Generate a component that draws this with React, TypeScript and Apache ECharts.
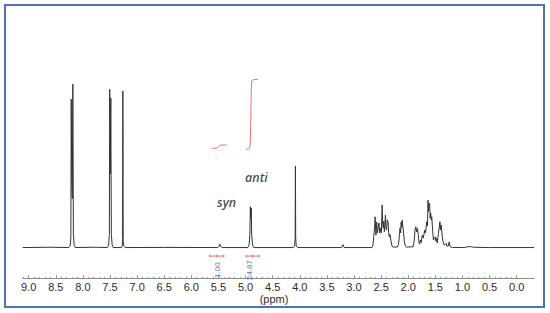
import React, { useEffect, useRef } from "react";
import * as echarts from "echarts";

// tick labels (ppm)
const tickLabels = [9.0, 8.5, 8.0, 7.5, 7.0, 6.5, 6.0, 5.5, 5.0, 4.5, 4.0, 3.5, 3.0, 2.5, 2.0, 1.5, 1.0, 0.5, 0.0];

// 1H NMR spectrum: [ppm, intensity]
const spectrum: [number, number][] = [
  [9.11, 0], [8.6, 0.2], [8.26, 0], [8.235, 1], [8.222, 6], [8.215, 90.8], [8.205, 40], [8.195, 30], [8.185, 100], [8.175, 8], [8.16, 1.2], [8.14, 0],
  [7.8, 0.2], [7.55, 0], [7.525, 1.5], [7.512, 8], [7.505, 96.8], [7.495, 45], [7.485, 91.4], [7.475, 8], [7.46, 1.5], [7.44, 0],
  [7.29, 0], [7.275, 1], [7.268, 5], [7.263, 95.7], [7.257, 4], [7.25, 1.5], [7.24, 0.8], [7.22, 0],
  [6.5, 0.1], [5.52, 0], [5.49, 0.6], [5.475, 2.1], [5.46, 0.6], [5.43, 0],
  [4.96, 0], [4.935, 1.5], [4.92, 8], [4.912, 25], [4.903, 18], [4.895, 24.2], [4.887, 8], [4.87, 1.5], [4.85, 0],
  [4.12, 0], [4.095, 1], [4.085, 6], [4.08, 49.8], [4.075, 6], [4.065, 1], [4.04, 0],
  [3.23, 0], [3.205, 1.8], [3.18, 0],
  [2.67, 0], [2.65, 1.5], [2.635, 7], [2.62, 12], [2.61, 18.8], [2.595, 7.6], [2.58, 15.6], [2.57, 9], [2.56, 10.7], [2.55, 12.5],
  [2.54, 15], [2.525, 8.9], [2.51, 12], [2.495, 9], [2.48, 26], [2.47, 14], [2.46, 11.9], [2.45, 16], [2.44, 9.7], [2.43, 14],
  [2.42, 19.9], [2.41, 12], [2.40, 10.7], [2.385, 17], [2.37, 15], [2.36, 9], [2.35, 6.6], [2.335, 8], [2.32, 4.6], [2.30, 1], [2.28, 0.3],
  [2.20, 0.3], [2.18, 2], [2.17, 4.6], [2.16, 9], [2.15, 11.9], [2.14, 9], [2.13, 15.6], [2.12, 12], [2.11, 16.8], [2.10, 13], [2.09, 10.7],
  [2.08, 7], [2.07, 3.4], [2.05, 0.8], [2.03, 0.3],
  [1.91, 0.5], [1.89, 4], [1.875, 10.7], [1.86, 12.7], [1.845, 9.5], [1.83, 11.7], [1.815, 8], [1.80, 3], [1.79, 2.1],
  [1.775, 4.6], [1.76, 3], [1.74, 7.6], [1.725, 5.8], [1.71, 8], [1.695, 10.7], [1.68, 8.9], [1.67, 12], [1.66, 15.8], [1.645, 13.1],
  [1.635, 29], [1.625, 22], [1.615, 26], [1.605, 27.2], [1.595, 18], [1.585, 21.1], [1.575, 16.8], [1.565, 18.8], [1.55, 10.7], [1.535, 4.6],
  [1.52, 6], [1.505, 6.6], [1.49, 4], [1.48, 5.8], [1.465, 2.8], [1.445, 8], [1.43, 11.9], [1.415, 15.8], [1.405, 10.7], [1.39, 13.8],
  [1.375, 7.6], [1.36, 4], [1.35, 2.8], [1.335, 1.5], [1.315, 2], [1.30, 2.6], [1.285, 0.9], [1.26, 1], [1.245, 3.5], [1.23, 1], [1.215, 0.3],
  [1.18, 0], [0.95, 0.1], [0.9, 0.5], [0.85, 0.6], [0.8, 0.2], [0.5, 0], [-0.32, 0],
];

// integral curves (red)
const synIntegral: [number, number][] = [
  [5.627, 60.7], [5.58, 60.7], [5.53, 60.9], [5.50, 61.6], [5.47, 62.5], [5.44, 62.7], [5.35, 62.7],
];
const antiIntegral: [number, number][] = [
  [4.995, 60.1], [4.95, 60.2], [4.93, 60.5], [4.915, 62.7], [4.905, 75], [4.90, 84.1], [4.895, 95], [4.89, 99.4], [4.885, 101.5], [4.87, 102.5], [4.77, 102.9],
];

// integration brackets: [left ppm, right ppm, centre ppm]
const brackets: [number, number, number][] = [
  [5.66, 5.40, 5.53],
  [4.99, 4.75, 4.87],
];
const integralValues = ["1.00", "24.87"];
const integralPositions = [5.52, 4.93];

const peakLabels = [
  { text: "anti", ppm: 4.80, y: 42.9 },
  { text: "syn", ppm: 5.35, y: 27.4 },
];

export default function App() {
  const ref = useRef<HTMLDivElement>(null);
  useEffect(() => {
    if (!ref.current) return;
    const chart = echarts.init(ref.current, null, { renderer: "svg" });

    const bracketY = -5.2;
    const bracketData: any[] = [];
    brackets.forEach(([a, b, c]) => {
      bracketData.push([a, bracketY + 0.8], [a, bracketY - 0.8], null);
      bracketData.push([a, bracketY], [b, bracketY], null);
      bracketData.push([b, bracketY + 0.8], [b, bracketY - 0.8], null);
      bracketData.push([c, bracketY + 0.9], [c, bracketY - 0.9], null);
    });

    const minorTicks: number[] = [];
    for (let i = 0; i <= 91; i++) minorTicks.push(i / 10);

    chart.setOption({
      animation: false,
      grid: { left: 22.7, right: 16, top: 60, bottom: 34.7 },
      xAxis: [
        {
          type: "value",
          min: -0.32,
          max: 9.11,
          inverse: true,
          axisLine: { show: true, onZero: false, lineStyle: { color: "#8a8a8a", width: 1 } },
          axisTick: { show: true, inside: true, length: 3, customValues: tickLabels, lineStyle: { color: "#8a8a8a" } },
          axisLabel: {
            show: true,
            customValues: tickLabels,
            formatter: (v: number) => v.toFixed(1),
            color: "#2b2b2b",
            fontSize: 11,
            fontFamily: "Liberation Sans",
            margin: 3,
          },
          splitLine: { show: false },
        },
        {
          type: "value",
          min: -0.32,
          max: 9.11,
          inverse: true,
          position: "bottom",
          axisLine: { show: false, onZero: false },
          axisTick: { show: true, inside: true, length: 1.5, customValues: minorTicks, lineStyle: { color: "#a0a0a0" } },
          axisLabel: { show: false },
          splitLine: { show: false },
        },
      ],
      yAxis: { type: "value", min: -18.8, max: 114.7, show: false, splitLine: { show: false } },
      graphic: [
        {
          type: "rect",
          shape: { x: 5, y: 5, width: 539, height: 302 },
          style: { fill: "none", stroke: "#4e73b5", lineWidth: 2 },
          silent: true,
        },
        {
          type: "text",
          x: 274,
          y: 299,
          style: {
            text: "(ppm)",
            fill: "#2b2b2b",
            font: "11px 'Liberation Sans'",
            textAlign: "center",
            textVerticalAlign: "middle",
          },
        },
      ],
      series: [
        {
          type: "line",
          data: spectrum,
          showSymbol: false,
          lineStyle: { color: "#333333", width: 1 },
          silent: true,
        },
        {
          type: "line",
          data: synIntegral,
          showSymbol: false,
          smooth: 0.3,
          lineStyle: { color: "#e26a6a", width: 1 },
          silent: true,
        },
        {
          type: "line",
          data: antiIntegral,
          showSymbol: false,
          smooth: 0.2,
          lineStyle: { color: "#e26a6a", width: 1 },
          silent: true,
        },
        {
          type: "line",
          data: bracketData,
          showSymbol: false,
          connectNulls: false,
          lineStyle: { color: "#e26a6a", width: 1 },
          silent: true,
        },
        {
          type: "scatter",
          symbolSize: 0,
          data: integralValues.map((t, i) => ({ value: [integralPositions[i], -13.8], name: t })),
          label: {
            show: true,
            position: "inside",
            formatter: (p: any) => p.name,
            rotate: 90,
            color: "#3b3fb0",
            fontSize: 8,
            fontFamily: "Liberation Sans",
          },
          silent: true,
        },
        {
          type: "scatter",
          symbolSize: 0,
          data: peakLabels.map((p) => ({ value: [p.ppm, p.y], name: p.text })),
          label: {
            show: true,
            position: "inside",
            formatter: (p: any) => p.name,
            color: "#1a1a1a",
            fontSize: 12.5,
            fontStyle: "italic",
            fontWeight: 600,
            fontFamily: "Open Sans",
          },
          silent: true,
        },
      ],
    });
    return () => chart.dispose();
  }, []);
  return (
    <div
      ref={ref}
      style={{ position: "fixed", left: 0, top: 0, width: 550, height: 313, background: "#fff" }}
    />
  );
}
